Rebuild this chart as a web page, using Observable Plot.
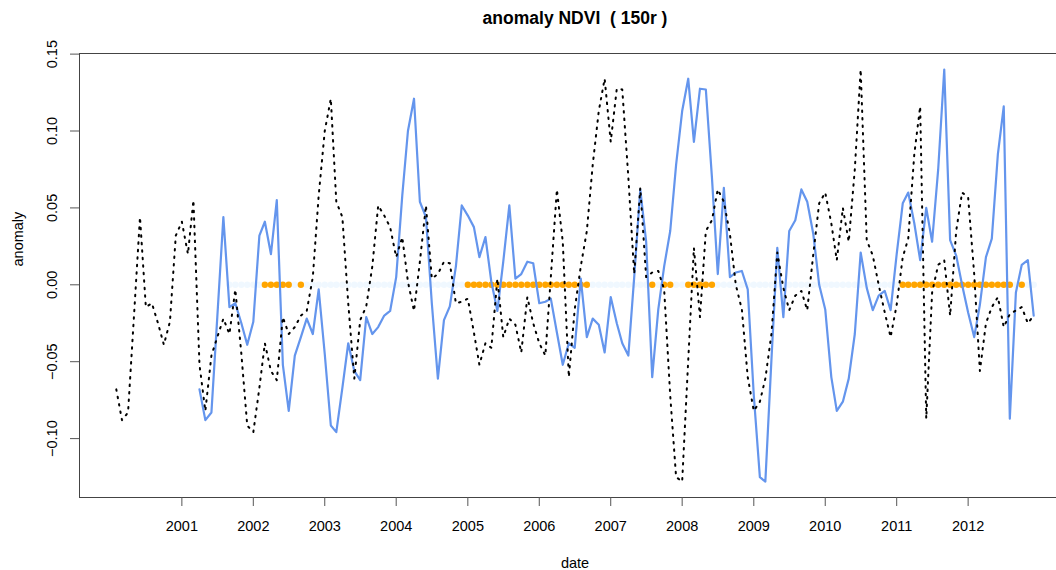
<!DOCTYPE html>
<html><head><meta charset="utf-8">
<script src="https://cdn.jsdelivr.net/npm/d3@7"></script>
<script src="https://cdn.jsdelivr.net/npm/@observablehq/plot@0.6"></script>
<style>
body{margin:0;background:#fff;}
#chart{width:1056px;height:570px;overflow:hidden;}
</style>
</head><body><div id="chart"></div>
<script>
// ---- data ----
const titleText = "anomaly NDVI  ( 150r )";
const xLabel = "date";
const yLabel = "anomaly";

// black dotted series: monthly, starting Feb 2000
const blackStart = "2000-02-01";
const blackValues = [
 -0.068, -0.088, -0.083, -0.021, 0.044, -0.0145, -0.012, -0.025, -0.039, -0.024,
 0.032, 0.041, 0.020, 0.055, -0.052, -0.082, -0.046, -0.034, -0.022, -0.032,
 -0.003, -0.045, -0.0915, -0.0958, -0.067, -0.038, -0.056, -0.062, -0.021, -0.032,
 -0.0275, -0.020, -0.017, 0.005, 0.058, 0.100, 0.121, 0.054, 0.044, -0.012,
 -0.061, -0.023, -0.014, 0.012, 0.0516, 0.045, 0.0375, 0.018, 0.031, 0.002,
 -0.017, 0.015, 0.0516, 0.004, 0.007, 0.015, 0.014, -0.012, -0.011, -0.009,
 -0.031, -0.052, -0.038, -0.041, 0.004, -0.034, -0.022, -0.026, -0.044, -0.008,
 -0.025, -0.038, -0.046, 0.005, 0.062, 0.028, -0.060, -0.016, 0.012, 0.035,
 0.078, 0.113, 0.134, 0.093, 0.1275, 0.127, 0.070, 0.007, 0.063, 0.005,
 0.008, 0.009, -0.003, -0.072, -0.125, -0.128, -0.049, 0.024, -0.021, 0.035,
 0.042, 0.062, 0.054, 0.033, 0.000, -0.016, -0.060, -0.082, -0.076, -0.061,
 -0.032, 0.021, -0.002, -0.0165, -0.007, -0.004, -0.0165, 0.020, 0.053, 0.060,
 0.040, 0.016, 0.050, 0.028, 0.075, 0.140, 0.029, 0.019, 0.000, -0.018,
 -0.034, -0.013, 0.018, 0.030, 0.085, 0.116, -0.087, -0.005, 0.013, 0.016,
 -0.020, 0.035, 0.060, 0.057, 0.007, -0.056, -0.025, -0.0145, -0.008, -0.0275,
 -0.019, -0.0167, -0.0145, -0.025, -0.020
];

// blue solid series: monthly, starting Apr 2001
const blueStart = "2001-04-01";
const blueValues = [
 -0.068, -0.088, -0.083, -0.021, 0.044, -0.0145, -0.012, -0.025, -0.039, -0.024,
 0.032, 0.041, 0.020, 0.055, -0.052, -0.082, -0.046, -0.034, -0.022, -0.032,
 -0.003, -0.045, -0.0915, -0.0958, -0.067, -0.038, -0.056, -0.062, -0.021, -0.032,
 -0.0275, -0.020, -0.017, 0.005, 0.058, 0.100, 0.121, 0.054, 0.044, -0.012,
 -0.061, -0.023, -0.014, 0.012, 0.0516, 0.045, 0.0375, 0.018, 0.031, 0.002,
 -0.017, 0.015, 0.0516, 0.004, 0.007, 0.015, 0.014, -0.012, -0.011, -0.009,
 -0.031, -0.052, -0.038, -0.041, 0.004, -0.034, -0.022, -0.026, -0.044, -0.008,
 -0.025, -0.038, -0.046, 0.005, 0.062, 0.028, -0.060, -0.016, 0.012, 0.035,
 0.078, 0.113, 0.134, 0.093, 0.1275, 0.127, 0.070, 0.007, 0.063, 0.005,
 0.008, 0.009, -0.003, -0.072, -0.125, -0.128, -0.049, 0.024, -0.021, 0.035,
 0.042, 0.062, 0.054, 0.033, 0.000, -0.016, -0.060, -0.082, -0.076, -0.061,
 -0.032, 0.021, -0.002, -0.0165, -0.007, -0.004, -0.0165, 0.020, 0.053, 0.060,
 0.040, 0.016, 0.050, 0.028, 0.075, 0.140, 0.029, 0.019, 0.000, -0.018,
 -0.034, -0.013, 0.018, 0.030, 0.085, 0.116, -0.087, -0.005, 0.013, 0.016,
 -0.020
];

// flag dots along y = 0: monthly, starting Sep 2001 (1 = orange, 0 = light)
const flagStart = "2001-09-01";
const flagValues = [
 0,0,0,0,0,0,1,1,1,1,1,0,
 1,0,0,0,0,0,0,0,0,0,0,0,
 0,0,0,0,0,0,0,0,0,0,0,0,
 0,0,0,0,1,1,1,1,1,1,1,1,
 1,1,1,1,1,1,1,1,1,1,1,1,
 1,0,0,0,0,0,0,0,0,0,0,1,
 0,1,1,0,0,1,1,1,1,1,0,0,
 0,0,0,0,0,0,0,0,0,0,0,0,
 0,0,0,0,0,0,0,0,0,0,0,0,
 0,0,0,0,0,1,1,1,1,1,1,1,
 1,1,1,1,1,1,1,1,1,1,1,1,
 0,1,0,0
];

const yearTicks = [2001,2002,2003,2004,2005,2006,2007,2008,2009,2010,2011,2012];
const yTicks = [-0.10, -0.05, 0.00, 0.05, 0.10, 0.15];

// ---- build tables ----
const parse = d3.utcParse("%Y-%m-%d");
const monthly = (start, vals) => vals.map((v, i) => ({date: d3.utcMonth.offset(parse(start), i), v}));
const black = monthly(blackStart, blackValues);
const blue = monthly(blueStart, blueValues);
const flags = monthly(flagStart, flagValues);
const yearDates = yearTicks.map(y => new Date(Date.UTC(y, 0, 1)));

const font = "'Liberation Sans', Arial, Helvetica, sans-serif";

const chart = Plot.plot({
  width: 1056,
  height: 570,
  marginTop: 53,
  marginBottom: 73,
  marginLeft: 79,
  marginRight: -14,
  style: {fontFamily: font, fontSize: "14.5px", background: "#fff", color: "#000", overflow: "hidden"},
  x: {type: "utc", domain: [new Date(Date.UTC(1999, 6, 28)), new Date(Date.UTC(2013, 5, 7))]},
  y: {domain: [-0.1383, 0.1504]},
  marks: [
    Plot.dot(flags.filter(d => !d.v), {x: "date", y: () => 0, r: 3.2, fill: "#F0F8FF", stroke: "none"}),
    Plot.dot(flags.filter(d => d.v), {x: "date", y: () => 0, r: 3.2, fill: "#FFA500", stroke: "none"}),
    Plot.line(blue, {x: "date", y: "v", stroke: "#6495ED", strokeWidth: 2.2}),
    Plot.line(black, {x: "date", y: "v", stroke: "#000", strokeWidth: 2, strokeDasharray: "1.5,6", strokeLinecap: "round"}),
    Plot.frame({stroke: "#444", strokeWidth: 1}),
    Plot.axisX({ticks: yearDates, tickFormat: "%Y", tickSize: 9, tickPadding: 14, label: null, stroke: "#555", fontSize: 14.5}),
    Plot.axisY({ticks: yTicks, tickSize: 9, tickFormat: () => "", label: null, stroke: "#555"}),
    Plot.text(yTicks, {y: d => d, text: d => d3.format(".2f")(d), frameAnchor: "left", dx: -27, rotate: -90, textAnchor: "middle", lineAnchor: "middle", fontSize: 14.5, fill: "#000"}),
    Plot.text([titleText], {frameAnchor: "top", dy: -35, text: d => d, fontWeight: "bold", fontSize: 17.5, lineAnchor: "middle", fill: "#000"}),
    Plot.text([xLabel], {frameAnchor: "bottom", dy: 66, text: d => d, fontSize: 14.5, lineAnchor: "middle", fill: "#000"}),
    Plot.text([yLabel], {frameAnchor: "left", dx: -61, dy: -9, text: d => d, rotate: -90, fontSize: 14.5, lineAnchor: "middle", fill: "#000"})
  ]
});
document.getElementById("chart").appendChild(chart);
</script>
</body></html>
